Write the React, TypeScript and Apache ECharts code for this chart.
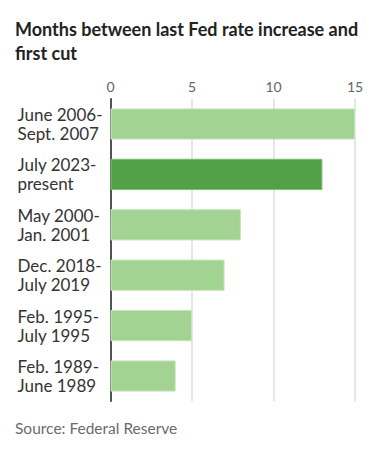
import React, { useEffect, useRef } from "react";
import * as echarts from "echarts";

const categories = [
  "June 2006-\nSept. 2007",
  "July 2023-\npresent",
  "May 2000-\nJan. 2001",
  "Dec. 2018-\nJuly 2019",
  "Feb. 1995-\nJuly 1995",
  "Feb. 1989-\nJune 1989",
];
const months = [15, 13, 8, 7, 5, 4];
const highlight = [false, true, false, false, false, false];
const xTicks = [0, 5, 10, 15];

const FONT = "Lato";

export default function App() {
  const ref = useRef<HTMLDivElement>(null);
  useEffect(() => {
    if (!ref.current) return;
    const chart = echarts.init(ref.current, null, { renderer: "svg" });
    chart.setOption({
      animation: false,
      backgroundColor: "#ffffff",
      title: {
        text: "Months between last Fed rate increase and\nfirst cut",
        left: 2,
        top: 4,
        textStyle: {
          fontFamily: FONT,
          fontWeight: "bold",
          fontSize: 18,
          lineHeight: 24,
          color: "#222222",
        },
      },
      graphic: [
        {
          type: "text",
          left: 7,
          top: 412,
          style: {
            text: "Source: Federal Reserve",
            fontFamily: FONT,
            fontSize: 15.5,
            fill: "#6b6b6b",
          },
        },
      ],
      grid: { left: 102.5, right: 25, top: 90.8, height: 302.4, containLabel: false },
      xAxis: {
        type: "value",
        position: "top",
        min: 0,
        max: 15,
        interval: 5,
        axisLine: { show: false },
        axisTick: { show: false },
        axisLabel: {
          margin: 5,
          fontFamily: FONT,
          fontSize: 14,
          color: "#666666",
          formatter: (v: number) => (xTicks.includes(v) ? String(v) : ""),
        },
        splitLine: { show: true, lineStyle: { color: "#e6e6e6", width: 2 } },
      },
      yAxis: {
        type: "category",
        data: categories,
        inverse: true,
        axisLine: { show: true, lineStyle: { color: "#222222", width: 1.5 } },
        axisTick: { show: false },
        axisLabel: {
          align: "left",
          margin: 93,
          fontFamily: FONT,
          fontSize: 17,
          lineHeight: 19,
          color: "#333333",
        },
      },
      series: [
        {
          type: "bar",
          barCategoryGap: "38%",
          data: months.map((v, i) => ({
            value: v,
            itemStyle: {
              color: highlight[i] ? "#52a048" : "#a3d393",
              borderColor: highlight[i] ? "#7cbd72" : "#c5e6ba",
              borderWidth: 1,
            },
          })),
        },
      ],
    });
    return () => chart.dispose();
  }, []);
  return <div ref={ref} style={{ width: 372, height: 440 }} />;
}
